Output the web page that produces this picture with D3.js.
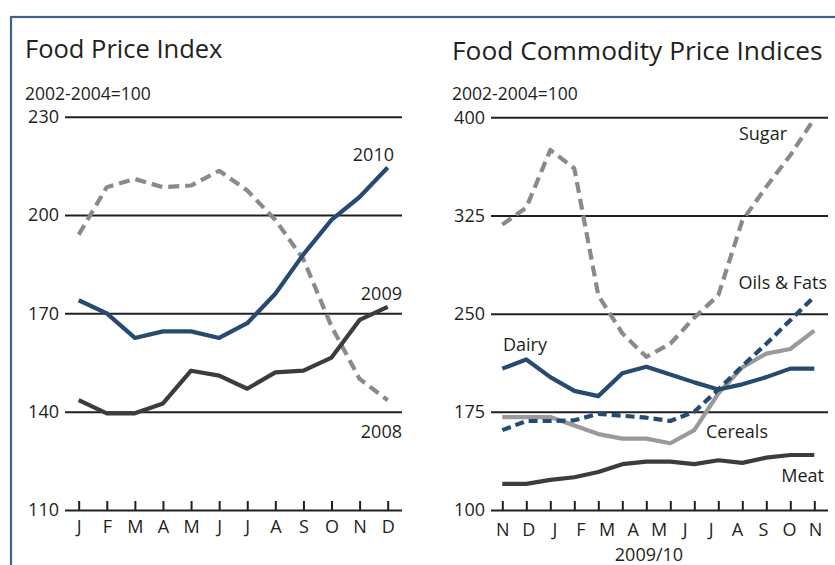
<!DOCTYPE html>
<html>
<head>
<meta charset="utf-8">
<script src="https://cdn.jsdelivr.net/npm/d3@7"></script>
<style>
  body { margin: 0; background: #fff; }
  svg { display: block; font-family: "Open Sans", sans-serif; }
</style>
</head>
<body>
<svg width="835" height="565"></svg>
<script>
// left panel: food price index, 2002-2004=100
var months = ["J", "F", "M", "A", "M", "J", "J", "A", "S", "O", "N", "D"];
var fpi2008 = [194, 208.5, 211, 208.5, 209, 213.5, 207.5, 198.5, 186.5, 166, 150, 143.5];
var fpi2009 = [143.5, 139.5, 139.5, 142.5, 152.5, 151, 147, 152, 152.5, 156.5, 168, 172];
var fpi2010 = [174, 170, 162.5, 164.5, 164.5, 162.5, 167, 176, 188, 198.5, 205.5, 214.5];
var leftTicks = [110, 140, 170, 200, 230];

// right panel: commodity indices, Nov 2009 - Dec 2010 (14 monthly points)
var commodityMonths = ["N", "D", "J", "F", "M", "A", "M", "J", "J", "A", "S", "O", "N"];
var sugar = [318, 331, 375, 361, 264, 235, 217, 227, 247, 264, 321, 347, 371, 399];
var oilsFats = [161, 168, 168, 168.5, 173.5, 172, 170.5, 168, 175, 192, 210, 227, 245, 263];
var dairy = [208, 215, 201.5, 191, 187, 204.5, 209.5, 203.5, 197.5, 192, 196, 201.5, 208, 208];
var cereals = [171, 171, 171, 164.5, 158, 154.5, 154.5, 151, 161, 189, 209, 219.5, 223, 237];
var meat = [120, 120, 123, 125, 129, 135, 137, 137, 135, 138, 136, 140, 142, 142];
var rightTicks = [100, 175, 250, 325, 400];

var svg = d3.select("svg");
var blue = "#264a70", dark = "#3c3c3c", grey = "#8a8a8c", lightGrey = "#9a9a9c", ink = "#231f20";

// frame
svg.append("rect")
    .attr("x", 11).attr("y", 17)
    .attr("width", 900).attr("height", 700)
    .attr("fill", "none")
    .attr("stroke", "#3f618e")
    .attr("stroke-width", 2.2);

function panel(opt) {
    var g = svg.append("g");
    g.append("text")
        .attr("x", opt.left).attr("y", opt.titleY)
        .attr("font-size", opt.titleSize).attr("fill", ink)
        .text(opt.title);
    g.append("text")
        .attr("x", opt.left).attr("y", 100)
        .attr("font-size", 17.5).attr("fill", ink)
        .text("2002-2004=100");

    var grid = d3.axisRight(opt.y)
        .tickValues(opt.ticks)
        .tickSize(opt.x1 - opt.x0)
        .tickPadding(0);
    var ga = g.append("g")
        .attr("transform", "translate(" + opt.x0 + ",0)")
        .call(grid);
    ga.select(".domain").remove();
    ga.selectAll("line").attr("stroke", ink).attr("stroke-width", 2);
    ga.selectAll("text")
        .attr("x", -6)
        .attr("text-anchor", "end")
        .attr("font-size", 18)
        .attr("font-family", "Open Sans, sans-serif")
        .attr("fill", ink);
    return g;
}

function bottomTicks(g, x, y0) {
    var ax = d3.axisBottom(x).tickSizeInner(-9).tickSizeOuter(0).tickFormat("");
    var a = g.append("g").attr("transform", "translate(0," + y0 + ")").call(ax);
    a.select(".domain").remove();
    a.selectAll("line").attr("stroke", ink).attr("stroke-width", 2);
}

function bottomLabels(g, x, y0, pad, names) {
    var ax = d3.axisBottom(x).tickSize(0).tickPadding(pad)
        .tickFormat(function (d) { return names[d]; });
    var a = g.append("g").attr("transform", "translate(0," + y0 + ")").call(ax);
    a.select(".domain").remove();
    a.selectAll("text")
        .attr("font-size", 18)
        .attr("font-family", "Open Sans, sans-serif")
        .attr("fill", ink);
}

function series(g, x, y, data, color, dash) {
    var line = d3.line()
        .x(function (d, i) { return x(i); })
        .y(function (d) { return y(d); });
    g.append("path")
        .datum(data)
        .attr("d", line)
        .attr("fill", "none")
        .attr("stroke", color)
        .attr("stroke-width", 4.2)
        .attr("stroke-linejoin", "round")
        .attr("stroke-dasharray", dash || null);
}

function label(g, x, y, txt, anchor) {
    g.append("text")
        .attr("x", x).attr("y", y)
        .attr("text-anchor", anchor || "start")
        .attr("font-size", 18).attr("fill", ink)
        .text(txt);
}

// ---- left panel
var xL = d3.scalePoint().domain(d3.range(months.length)).range([78.7, 387.7]);
var yL = d3.scaleLinear().domain([110, 230]).range([510, 116.7]);
var left = panel({ title: "Food Price Index", titleY: 58, titleSize: 25.5, left: 25, x0: 65, x1: 402, y: yL, ticks: leftTicks });
bottomTicks(left, xL, 510);
bottomLabels(left, xL, 510, 10, months);

series(left, xL, yL, fpi2008, grey, "11,6");
series(left, xL, yL, fpi2009, dark);
series(left, xL, yL, fpi2010, blue);
label(left, 394, 161, "2010", "end");
label(left, 402, 300, "2009", "end");
label(left, 402, 438, "2008", "end");

// ---- right panel
var xR = d3.scalePoint().domain(d3.range(sugar.length)).range([502.3, 814.3]);
var yR = d3.scaleLinear().domain([100, 400]).range([510, 117.3]);
var right = panel({ title: "Food Commodity Price Indices", titleY: 60, titleSize: 26.3, left: 452, x0: 491, x1: 828, y: yR, ticks: rightTicks });
bottomTicks(right, xR, 510);
var xLabR = d3.scalePoint().domain(d3.range(commodityMonths.length)).range([502.3, 815]);
bottomLabels(right, xLabR, 510, 13, commodityMonths);
label(right, 649, 561, "2009/10", "middle");

series(right, xR, yR, sugar, grey, "11,6");
series(right, xR, yR, meat, dark);
series(right, xR, yR, cereals, lightGrey);
series(right, xR, yR, dairy, blue);
series(right, xR, yR, oilsFats, blue, "9,5");
label(right, 787, 140, "Sugar", "end");
label(right, 827, 289, "Oils & Fats", "end");
label(right, 503, 351, "Dairy");
label(right, 768, 438, "Cereals", "end");
label(right, 824, 482, "Meat", "end");
</script>
</body>
</html>
